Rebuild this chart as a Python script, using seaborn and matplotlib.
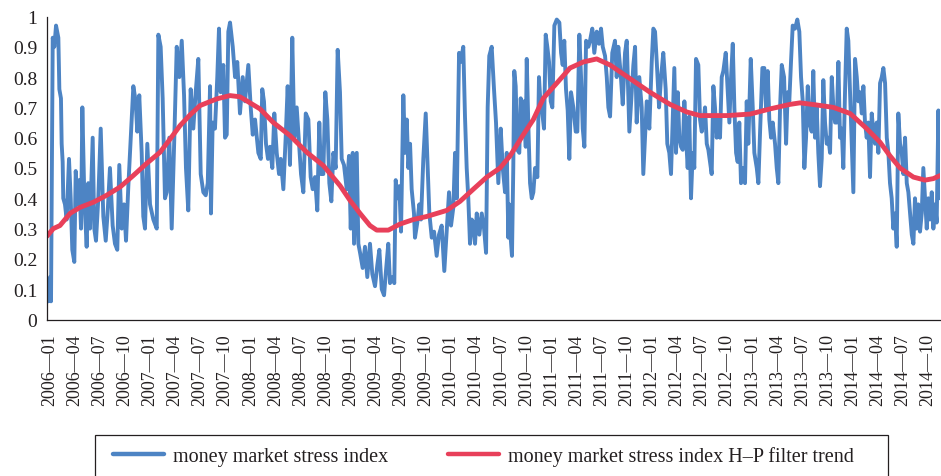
import matplotlib
matplotlib.use("Agg")
import matplotlib.pyplot as plt
import matplotlib.transforms as mtransforms
from matplotlib.patches import Rectangle
import pandas as pd
import seaborn as sns

START_YEAR = 2006

# Money market stress index: (years elapsed since January 2006, index value)
STRESS_POINTS = [
    (0.000, .12), (0.013, .06), (0.030, .14), (0.040, .06), (0.057, .93), (0.073, .90), (0.090, .97), (0.113, .93), (0.123, .76), (0.139, .73),
    (0.146, .58), (0.156, .52), (0.162, .40), (0.179, .38), (0.196, .33), (0.219, .53), (0.236, .40), (0.252, .23), (0.272, .19), (0.286, .49),
    (0.306, .38), (0.322, .46), (0.339, .30), (0.352, .70), (0.372, .40), (0.395, .24), (0.411, .45), (0.428, .30), (0.455, .60), (0.471, .30),
    (0.488, .26), (0.511, .40), (0.535, .63), (0.561, .34), (0.585, .26), (0.605, .36), (0.627, .50), (0.654, .31), (0.677, .25), (0.700, .23),
    (0.720, .51), (0.744, .30), (0.767, .38), (0.787, .26), (0.810, .44), (0.834, .60), (0.860, .77), (0.883, .72), (0.899, .62), (0.919, .74),
    (0.943, .55), (0.959, .34), (0.976, .30), (0.999, .58), (1.026, .38), (1.059, .33), (1.093, .30), (1.109, .94), (1.132, .90), (1.152, .73),
    (1.175, .40), (1.192, .42), (1.218, .60), (1.242, .30), (1.268, .60), (1.292, .90), (1.318, .80), (1.342, .92), (1.365, .74), (1.384, .50),
    (1.407, .36), (1.431, .76), (1.457, .63), (1.481, .75), (1.507, .86), (1.531, .48), (1.557, .42), (1.581, .41), (1.601, .45), (1.624, .77),
    (1.633, .35), (1.650, .65), (1.673, .63), (1.696, .80), (1.713, .96), (1.730, .75), (1.756, .84), (1.773, .60), (1.790, .61), (1.806, .95),
    (1.823, .98), (1.850, .90), (1.873, .80), (1.895, .85), (1.922, .68), (1.949, .80), (1.972, .72), (2.005, .84), (2.029, .70), (2.049, .61),
    (2.072, .66), (2.105, .55), (2.129, .53), (2.144, .76), (2.161, .72), (2.181, .58), (2.201, .53), (2.221, .57), (2.244, .50), (2.264, .68),
    (2.288, .55), (2.311, .48), (2.328, .53), (2.354, .43), (2.377, .60), (2.397, .77), (2.420, .51), (2.443, .93), (2.463, .60), (2.487, .70),
    (2.510, .58), (2.530, .48), (2.553, .42), (2.577, .68), (2.603, .66), (2.626, .47), (2.646, .43), (2.669, .47), (2.692, .36), (2.712, .65),
    (2.729, .48), (2.752, .48), (2.772, .75), (2.792, .66), (2.812, .45), (2.832, .39), (2.852, .55), (2.875, .50), (2.895, .89), (2.918, .75),
    (2.935, .53), (2.958, .51), (2.985, .43), (3.008, .54), (3.025, .30), (3.045, .55), (3.058, .25), (3.085, .55), (3.101, .25), (3.118, .22),
    (3.144, .17), (3.167, .24), (3.190, .14), (3.217, .25), (3.240, .15), (3.267, .11), (3.290, .18), (3.310, .23), (3.334, .10), (3.357, .08),
    (3.376, .16), (3.399, .25), (3.416, .12), (3.443, .14), (3.459, .12), (3.473, .46), (3.489, .40), (3.509, .44), (3.526, .29), (3.549, .74),
    (3.566, .55), (3.583, .66), (3.599, .50), (3.616, .58), (3.632, .43), (3.655, .35), (3.665, .27), (3.688, .32), (3.708, .38), (3.725, .33),
    (3.748, .53), (3.772, .68), (3.792, .50), (3.808, .35), (3.832, .27), (3.855, .29), (3.881, .21), (3.904, .28), (3.931, .31), (3.957, .16),
    (3.981, .29), (4.004, .42), (4.024, .31), (4.047, .37), (4.064, .55), (4.081, .40), (4.104, .88), (4.120, .85), (4.146, .90), (4.163, .67),
    (4.180, .50), (4.196, .40), (4.213, .25), (4.230, .33), (4.246, .32), (4.263, .25), (4.280, .35), (4.306, .28), (4.330, .35), (4.353, .30),
    (4.373, .22), (4.389, .70), (4.405, .87), (4.429, .90), (4.452, .76), (4.472, .65), (4.495, .45), (4.519, .63), (4.539, .50), (4.562, .42),
    (4.579, .55), (4.595, .27), (4.604, .38), (4.618, .27), (4.631, .21), (4.644, .50), (4.654, .82), (4.668, .77), (4.684, .56), (4.704, .55),
    (4.718, .73), (4.734, .62), (4.751, .72), (4.768, .57), (4.778, .86), (4.794, .64), (4.811, .45), (4.828, .40), (4.844, .42), (4.861, .50),
    (4.884, .47), (4.900, .80), (4.917, .70), (4.933, .68), (4.950, .63), (4.967, .94), (4.983, .90), (5.000, .85), (5.017, .72), (5.033, .70),
    (5.053, .97), (5.077, .99), (5.103, .98), (5.120, .88), (5.136, .84), (5.152, .92), (5.169, .76), (5.186, .69), (5.202, .53), (5.219, .75),
    (5.242, .70), (5.266, .62), (5.282, .62), (5.302, .94), (5.319, .80), (5.336, .63), (5.352, .57), (5.369, .92), (5.392, .90), (5.408, .92),
    (5.431, .96), (5.451, .88), (5.475, .95), (5.498, .91), (5.518, .96), (5.535, .90), (5.558, .87), (5.575, .80), (5.591, .70), (5.608, .67),
    (5.630, .88), (5.657, .92), (5.674, .80), (5.690, .90), (5.714, .81), (5.734, .71), (5.757, .88), (5.774, .92), (5.800, .62), (5.824, .75),
    (5.840, .84), (5.857, .90), (5.873, .65), (5.899, .80), (5.923, .70), (5.939, .48), (5.956, .60), (5.973, .72), (5.999, .63), (6.023, .85),
    (6.039, .96), (6.056, .95), (6.073, .85), (6.096, .70), (6.116, .80), (6.138, .88), (6.162, .76), (6.178, .58), (6.198, .55), (6.215, .48),
    (6.232, .66), (6.248, .83), (6.265, .55), (6.282, .75), (6.298, .60), (6.315, .57), (6.332, .56), (6.348, .72), (6.365, .60), (6.381, .50),
    (6.397, .67), (6.414, .40), (6.431, .55), (6.447, .50), (6.464, .86), (6.487, .84), (6.504, .66), (6.521, .62), (6.537, .65), (6.554, .70),
    (6.571, .58), (6.587, .56), (6.604, .52), (6.620, .48), (6.637, .77), (6.653, .70), (6.670, .60), (6.686, .66), (6.703, .60), (6.720, .80),
    (6.736, .82), (6.760, .88), (6.780, .75), (6.796, .65), (6.813, .80), (6.830, .91), (6.846, .70), (6.863, .55), (6.879, .52), (6.895, .65),
    (6.912, .45), (6.935, .50), (6.952, .45), (6.969, .72), (6.985, .58), (7.009, .86), (7.029, .70), (7.045, .55), (7.069, .50), (7.085, .45),
    (7.102, .62), (7.125, .83), (7.144, .83), (7.161, .70), (7.178, .82), (7.194, .66), (7.211, .60), (7.228, .65), (7.251, .58), (7.268, .50),
    (7.284, .45), (7.301, .70), (7.318, .84), (7.341, .80), (7.361, .58), (7.377, .75), (7.393, .72), (7.410, .85), (7.427, .97), (7.450, .96),
    (7.473, .99), (7.493, .95), (7.510, .80), (7.527, .72), (7.543, .50), (7.560, .60), (7.577, .77), (7.593, .65), (7.616, .62), (7.632, .82),
    (7.649, .60), (7.666, .70), (7.682, .55), (7.699, .44), (7.716, .53), (7.732, .79), (7.749, .65), (7.766, .58), (7.782, .60), (7.799, .55),
    (7.816, .80), (7.832, .70), (7.849, .65), (7.866, .65), (7.882, .85), (7.898, .60), (7.915, .63), (7.931, .50), (7.948, .75), (7.965, .96),
    (7.981, .92), (7.998, .75), (8.015, .58), (8.031, .42), (8.048, .86), (8.065, .80), (8.081, .72), (8.098, .75), (8.115, .68), (8.131, .77),
    (8.147, .65), (8.164, .60), (8.180, .65), (8.197, .47), (8.214, .68), (8.230, .62), (8.247, .58), (8.264, .65), (8.280, .55), (8.297, .78),
    (8.314, .80), (8.330, .83), (8.347, .78), (8.364, .60), (8.380, .55), (8.396, .45), (8.413, .40), (8.429, .30), (8.446, .35), (8.463, .24),
    (8.479, .68), (8.496, .58), (8.513, .55), (8.529, .48), (8.546, .60), (8.563, .45), (8.579, .42), (8.596, .35), (8.613, .28), (8.629, .25),
    (8.645, .40), (8.662, .30), (8.678, .38), (8.695, .29), (8.712, .35), (8.728, .50), (8.745, .40), (8.762, .30), (8.778, .40), (8.795, .33),
    (8.812, .42), (8.828, .30), (8.845, .38), (8.861, .32), (8.878, .69), (8.894, .40),
]

# Hodrick-Prescott filter trend of the index: (years elapsed since January 2006, trend value)
TREND_POINTS = [
    (0.000, .275), (0.063, .300), (0.129, .310), (0.229, .350), (0.329, .370), (0.462, .387), (0.594, .410), (0.727, .437),
    (0.859, .475), (0.992, .515), (1.126, .552), (1.225, .595), (1.325, .640), (1.424, .675), (1.524, .706), (1.690, .728),
    (1.823, .739), (1.922, .735), (2.022, .715), (2.122, .695), (2.254, .650), (2.420, .607), (2.587, .552), (2.752, .508),
    (2.918, .442), (3.018, .393), (3.118, .350), (3.217, .310), (3.284, .295), (3.400, .295), (3.516, .315), (3.649, .330),
    (3.782, .340), (3.981, .360), (4.114, .390), (4.246, .430), (4.380, .470), (4.512, .500), (4.612, .540), (4.744, .610),
    (4.844, .660), (4.943, .730), (5.077, .780), (5.209, .830), (5.342, .850), (5.475, .860), (5.608, .840), (5.740, .810),
    (5.873, .780), (6.006, .750), (6.205, .710), (6.371, .685), (6.504, .673), (6.770, .673), (7.002, .678), (7.201, .695),
    (7.400, .710), (7.500, .715), (7.666, .708), (7.832, .700), (7.998, .680), (8.164, .630), (8.297, .585), (8.396, .540),
    (8.496, .500), (8.629, .470), (8.745, .460), (8.828, .465), (8.894, .475),
]

TICK_YEARS = list(range(2006, 2015))
TICK_MONTHS = [1, 4, 7, 10]
Y_TICKS = [0, 0.1, 0.2, 0.3, 0.4, 0.5, 0.6, 0.7, 0.8, 0.9, 1]
Y_TICK_LABELS = ["0", "0.1", "0.2", "0.3", "0.4", "0.5", "0.6", "0.7", "0.8", "0.9", "1"]
SERIES_LABELS = ["money market stress index", "money market stress index H\u2013P filter trend"]

BLUE = "#4d84c4"
RED = "#e8405a"
INK = "#231f20"

sns.set_style("white")
plt.rcParams["font.family"] = ["Liberation Serif", "DejaVu Serif"]

stress = pd.DataFrame(STRESS_POINTS, columns=["elapsed", "value"])
stress["year"] = START_YEAR + stress["elapsed"]
trend = pd.DataFrame(TREND_POINTS, columns=["elapsed", "value"])
trend["year"] = START_YEAR + trend["elapsed"]

W, H = 941, 477
fig = plt.figure(figsize=(W / 100, H / 100), dpi=100)
ax = fig.add_axes([47 / W, 1 - 320.5 / H, 893 / W, 303 / H])

sns.lineplot(data=stress, x="year", y="value", color=BLUE, linewidth=2.8,
             estimator=None, sort=False, ax=ax, label=SERIES_LABELS[0])
sns.lineplot(data=trend, x="year", y="value", color=RED, linewidth=3.5,
             estimator=None, sort=False, ax=ax, label=SERIES_LABELS[1])

ax.set_xlim(START_YEAR, START_YEAR + 8.894)
ax.set_ylim(0, 1)
ax.set_xlabel("")
ax.set_ylabel("")

xticks = [y + (m - 1) / 12 for y in TICK_YEARS for m in TICK_MONTHS if y + (m - 1) / 12 <= START_YEAR + 8.894]
xlabels = [f"{y}\u2014{m:02d}" for y in TICK_YEARS for m in TICK_MONTHS if y + (m - 1) / 12 <= START_YEAR + 8.894]
ax.set_xticks(xticks)
ax.set_xticklabels(xlabels, rotation=90, fontsize=13, color=INK)
ax.set_yticks(Y_TICKS)
ax.set_yticklabels(Y_TICK_LABELS, fontsize=14, color=INK)

ax.tick_params(axis="x", direction="in", length=4, width=0.8, color=INK, pad=10)
ax.tick_params(axis="y", direction="in", length=4, width=0.8, color=INK, pad=7)

offset = mtransforms.ScaledTranslation(2.5 / 100, 0, fig.dpi_scale_trans)
for lab in ax.get_xticklabels():
    lab.set_transform(lab.get_transform() + offset)

for side in ("top", "right"):
    ax.spines[side].set_visible(False)
for side in ("left", "bottom"):
    ax.spines[side].set_color(INK)
    ax.spines[side].set_linewidth(0.9)

handles, labels = ax.get_legend_handles_labels()
ax.get_legend().remove()
leg = fig.legend(handles, labels, loc="center left", bbox_to_anchor=(113 / W, 1 - 457 / H),
                 ncol=2, frameon=False, fontsize=14.5, handlelength=2.55, handletextpad=0.45,
                 columnspacing=2.95, borderpad=0, borderaxespad=0)
for t in leg.get_texts():
    t.set_color(INK)
for line in leg.get_lines():
    line.set_linewidth(3.2)

fig.add_artist(Rectangle((95 / W, -0.02), 793 / W, 0.02 + (H - 436) / H,
                         transform=fig.transFigure, fill=False, edgecolor=INK, linewidth=0.9))

fig.savefig("out.png", dpi=100)
